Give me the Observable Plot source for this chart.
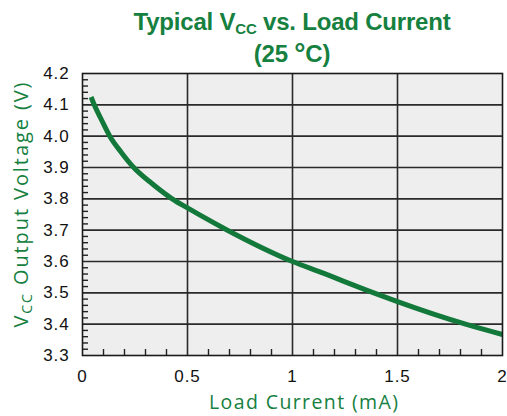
<!DOCTYPE html>
<html>
<head>
<meta charset="utf-8">
<script src="https://cdn.jsdelivr.net/npm/d3@7"></script>
<script src="https://cdn.jsdelivr.net/npm/@observablehq/plot@0.6"></script>
<style>
  html, body { margin: 0; padding: 0; background: #ffffff; }
  #title {
    box-sizing: border-box;
    width: 507px; height: 62px;
    padding: 8px 0 0 77px;
    text-align: center;
    font-family: "Liberation Sans", Arial, sans-serif;
    font-weight: bold;
    font-size: 24px;
    line-height: 28px;
    letter-spacing: -0.2px;
    color: #16803f;
    overflow: visible;
  }
  #title .sub { font-size: 15px; position: relative; top: 4px; }
  #title .deg { font-size: 28px; position: relative; top: 1px; }
</style>
</head>
<body>
<div id="title">Typical V<span class="sub">CC</span> vs. Load Current<br>(25 <span class="deg">°</span>C)</div>
<div id="chart"></div>
<script>
// ---- data ----
const currentMA = [0.041, 0.056, 0.092, 0.13, 0.184, 0.244, 0.332, 0.427, 0.5,   0.562, 0.69, 1.0, 1.133, 1.387, 1.5,   1.824, 2.0];
const vccV      = [4.125, 4.1,   4.05,  4.0,  3.949, 3.9,   3.848, 3.8,   3.771, 3.747, 3.7,  3.6, 3.566, 3.5,   3.472, 3.4,   3.367];

const xTicks = [0, 0.5, 1, 1.5, 2];
const xTickLabels = ["0", "0.5", "1", "1.5", "2"];
const yTicks = [3.3, 3.4, 3.5, 3.6, 3.7, 3.8, 3.9, 4.0, 4.1, 4.2];
const yTickLabels = ["3.3", "3.4", "3.5", "3.6", "3.7", "3.8", "3.9", "4.0", "4.1", "4.2"];
const xGrid = [0.5, 1, 1.5];
const yGrid = [3.4, 3.5, 3.6, 3.7, 3.8, 3.9, 4.0, 4.1];
const xMinor = [0.1, 0.2, 0.3, 0.4, 0.6, 0.7, 0.8, 0.9, 1.1, 1.2, 1.3, 1.4, 1.6, 1.7, 1.8, 1.9];
const yMinor = d3.range(1, 45).map(i => +(3.3 + i * 0.02).toFixed(2)).filter((v, i) => (i + 1) % 5 !== 0);

const xLabel = "Load Current (mA)";
const yLabel = "VCC Output Voltage (V)";

const green = "#16803f";
const lineGreen = "#13793b";

const rows = currentMA.map((x, i) => ({x, y: vccV[i]}));

const chart = Plot.plot({
  width: 507,
  height: 354,
  marginLeft: 82,
  marginRight: 5,
  marginTop: 11,
  marginBottom: 61,
  style: {fontFamily: "'Liberation Sans', Arial, sans-serif", fontSize: "17px", color: "#111", background: "#ffffff", overflow: "visible"},
  x: {domain: [0, 2]},
  y: {domain: [3.3, 4.2]},
  marks: [
    Plot.frame({fill: "#eeeeee", stroke: null}),
    Plot.ruleX(xGrid, {stroke: "#2a2a2a", strokeWidth: 1.6}),
    Plot.ruleY(yGrid, {stroke: "#2a2a2a", strokeWidth: 1.6}),
    Plot.ruleX(xMinor, {stroke: "#222", strokeWidth: 1.4, insetTop: 276}),
    Plot.ruleY(yMinor, {stroke: "#222", strokeWidth: 1.4, insetRight: 414}),
    Plot.line(rows, {x: "x", y: "y", stroke: lineGreen, strokeWidth: 5, curve: "monotone-x", strokeLinecap: "butt"}),
    Plot.frame({stroke: "#1a1a1a", strokeWidth: 1.6}),
    Plot.axisX(xTicks, {tickSize: 0, tickPadding: 14, tickFormat: d => xTickLabels[xTicks.indexOf(d)], label: null, fontSize: 17, fill: "#111"}),
    Plot.axisY(yTicks, {tickSize: 0, tickPadding: 13, tickFormat: d => yTickLabels[yTicks.indexOf(d)], label: null, fontSize: 17, fill: "#111"}),
    Plot.text([xLabel], {frameAnchor: "bottom", lineAnchor: "bottom", dx: 11, dy: 53, fill: green, fontSize: 19.5, fontFamily: "'Open Sans', sans-serif"}),
    Plot.text([yLabel], {frameAnchor: "left", lineAnchor: "bottom", textAnchor: "start", rotate: -90, dx: -55, dy: 113, fill: green, fontSize: 20, fontFamily: "'Open Sans', sans-serif"})
  ]
});

document.getElementById("chart").appendChild(chart);

// fine-tune label text: widths and the subscript
const svg = d3.select(chart);
svg.selectAll("text").each(function() {
  const t = d3.select(this);
  const s = this.textContent;
  if (s === xLabel) {
    t.attr("textLength", 189).attr("lengthAdjust", "spacing");
  } else if (s === yLabel) {
    t.text(null);
    t.append("tspan").text("V");
    t.append("tspan").attr("font-size", 14).attr("dy", 4).text("CC");
    t.append("tspan").attr("dy", -4).text(" Output Voltage (V)");
    t.attr("textLength", 245).attr("lengthAdjust", "spacing");
  }
});
svg.selectAll("g[aria-label='x-axis tick label'] text, g[aria-label='y-axis tick label'] text").style("letter-spacing", "0.9px");
</script>
</body>
</html>
